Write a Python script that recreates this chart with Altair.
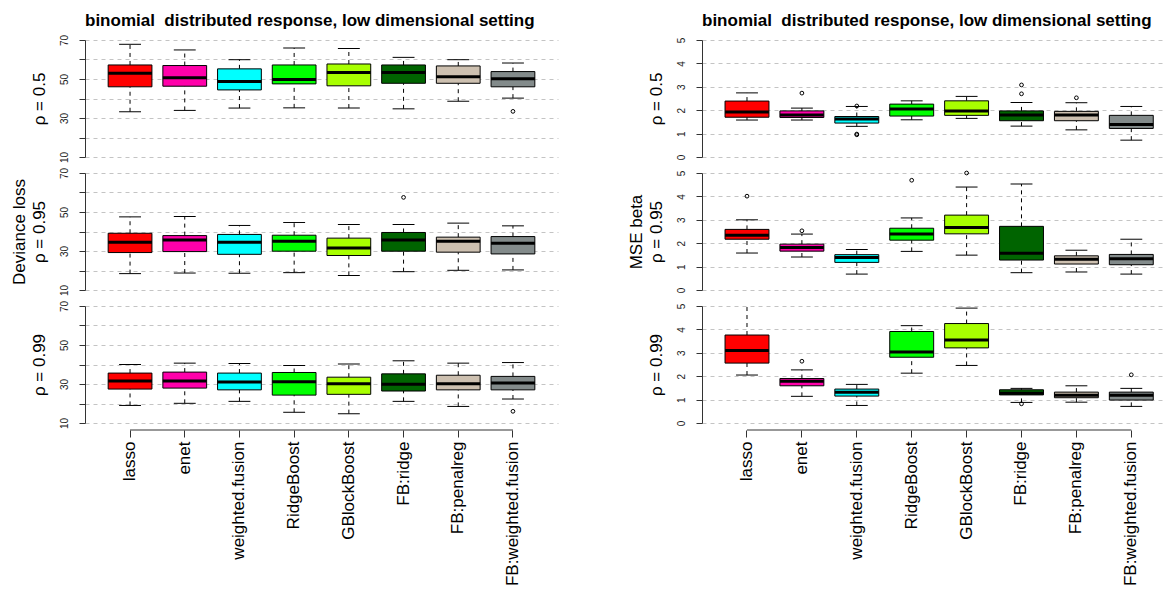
import altair as alt
import pandas as pd

FONT = "Liberation Sans"

methods = ["lasso", "enet", "weighted.fusion", "RidgeBoost", "GBlockBoost",
           "FB:ridge", "FB:penalreg", "FB:weighted.fusion"]
colors = ["#FF0000", "#FF00AA", "#00FFFF", "#00FF00", "#A8FF00",
          "#006400", "#CDC0B0", "#838B8B"]

# (lower whisker, Q1, median, Q3, upper whisker) per method
dev_r05 = [(33.2, 46.0, 53.0, 57.2, 67.8), (33.9, 46.3, 50.7, 56.9, 64.9),
           (35.1, 44.4, 48.7, 55.2, 59.9), (35.2, 47.5, 49.7, 57.2, 65.9),
           (35.1, 46.5, 53.3, 57.7, 65.7), (34.7, 47.8, 53.3, 57.2, 61.1),
           (38.6, 47.8, 51.1, 56.7, 59.9), (40.2, 46.0, 50.1, 53.8, 58.2)]
dev_r05_out = [("FB:weighted.fusion", 33.4)]

dev_r095 = [(18.4, 29.2, 34.5, 39.1, 47.5), (18.7, 29.7, 35.7, 37.9, 47.7),
            (18.6, 28.3, 34.5, 38.5, 43.1), (18.9, 29.9, 35.0, 38.1, 44.6),
            (17.5, 27.7, 31.6, 36.6, 43.6), (19.4, 29.9, 35.7, 39.5, 43.6),
            (20.1, 29.4, 35.0, 37.1, 44.3), (20.3, 28.5, 34.0, 37.4, 42.9)]
dev_r095_out = [("FB:ridge", 57.5)]

dev_r099 = [(19.0, 27.4, 31.6, 35.6, 40.0), (20.1, 27.9, 31.5, 36.1, 40.7),
            (21.1, 27.0, 31.0, 35.6, 40.5), (15.5, 24.3, 31.1, 35.9, 39.5),
            (14.8, 24.7, 30.1, 33.5, 40.3), (21.1, 26.4, 29.9, 35.2, 41.9),
            (18.5, 27.0, 30.1, 34.5, 40.7), (22.3, 27.0, 30.5, 33.9, 41.0)]
dev_r099_out = [("FB:weighted.fusion", 16.0)]

mse_r05 = [(1.58, 1.70, 1.92, 2.39, 2.74), (1.58, 1.69, 1.79, 1.97, 2.09),
           (1.31, 1.45, 1.62, 1.73, 2.16), (1.59, 1.75, 2.05, 2.26, 2.40),
           (1.65, 1.78, 1.97, 2.40, 2.59), (1.32, 1.55, 1.80, 1.97, 2.33),
           (1.16, 1.55, 1.80, 1.95, 2.32), (0.72, 1.22, 1.39, 1.78, 2.16)]
mse_r05_out = [("enet", 2.73), ("weighted.fusion", 2.18), ("weighted.fusion", 0.95),
               ("weighted.fusion", 0.98), ("FB:ridge", 2.70), ("FB:ridge", 3.08),
               ("FB:penalreg", 2.53)]

mse_r095 = [(1.58, 2.17, 2.34, 2.59, 3.00), (1.41, 1.66, 1.82, 1.96, 2.39),
            (0.68, 1.18, 1.39, 1.51, 1.73), (1.65, 2.13, 2.39, 2.64, 3.08),
            (1.49, 2.40, 2.67, 3.20, 4.40), (0.74, 1.28, 1.57, 2.72, 4.53),
            (0.77, 1.11, 1.31, 1.46, 1.70), (0.68, 1.08, 1.34, 1.52, 2.17)]
mse_r095_out = [("lasso", 4.01), ("enet", 2.53), ("RidgeBoost", 4.69), ("GBlockBoost", 5.0)]

mse_r099 = [(2.05, 2.56, 3.10, 3.76, 5.20), (1.14, 1.59, 1.78, 1.90, 2.27),
            (0.75, 1.15, 1.31, 1.45, 1.65), (2.13, 2.81, 3.03, 3.91, 4.16),
            (2.46, 3.21, 3.55, 4.25, 4.91), (0.88, 1.20, 1.27, 1.42, 1.48),
            (0.89, 1.08, 1.19, 1.32, 1.59), (0.71, 0.98, 1.19, 1.32, 1.48)]
mse_r099_out = [("enet", 2.64), ("FB:ridge", 0.82), ("FB:weighted.fusion", 2.06)]

title_text = "binomial\u00a0 distributed response, low dimensional setting"

dev_ticks = [10, 20, 30, 40, 50, 60, 70]
mse_ticks = [0, 1, 2, 3, 4, 5]

ROW_H = 117
LEFT_W = 473
RIGHT_W = 461
COL_GAP = 144
GRID = "#C4C4C4"
AXC = "#333333"

left_x = alt.Scale(type="band", domain=methods, paddingInner=0, paddingOuter=0.3235, align=0.5)
right_x = alt.Scale(type="band", domain=methods, paddingInner=0, paddingOuter=0.1985, align=0.805)


def panel(stats, outliers, ydom, yvals, lexpr, ytitle, xscale, width, bottom, top_title):
    df = pd.DataFrame({
        "method": methods,
        "lo": [s[0] for s in stats],
        "q1": [s[1] for s in stats],
        "med": [s[2] for s in stats],
        "q3": [s[3] for s in stats],
        "hi": [s[4] for s in stats],
    })
    if bottom:
        xaxis = alt.Axis(title=None, labelAngle=270, labelAlign="right", labelBaseline="middle",
                         labelFontSize=17, labelPadding=4, tickSize=7, offset=7, domain=False,
                         tickColor=AXC, labelColor="black", grid=False)
    else:
        xaxis = None
    X = alt.X("method:N", scale=xscale, axis=xaxis, title=None)
    yscale = alt.Scale(domain=ydom, nice=False, zero=False)
    axis_kw = dict(values=yvals, title=ytitle, grid=True, gridColor=GRID, gridDash=[4, 4],
                   gridWidth=1, tickSize=6, tickColor=AXC, domainColor=AXC,
                   labelAngle=270, labelAlign="center", labelBaseline="bottom",
                   labelPadding=10, labelFontSize=10, labelColor="#222222",
                   titleFontSize=17, titleFontWeight="normal", titleColor="black",
                   titlePadding=11, titleLineHeight=20)
    if lexpr:
        axis_kw["labelExpr"] = lexpr
    yaxis = alt.Axis(**axis_kw)

    def Y(f):
        return alt.Y(f"{f}:Q", scale=yscale, axis=yaxis)

    base = alt.Chart(df)
    layers = [
        base.mark_rule(color="black", strokeDash=[4, 4], strokeWidth=1, clip=True)
            .encode(x=X, y=Y("q3"), y2="hi:Q"),
        base.mark_rule(color="black", strokeDash=[4, 4], strokeWidth=1, clip=True)
            .encode(x=X, y=Y("lo"), y2="q1:Q"),
        base.mark_tick(color="black", size=21.9, thickness=1, clip=True, opacity=1)
            .encode(x=X, y=Y("hi")),
        base.mark_tick(color="black", size=21.9, thickness=1, clip=True, opacity=1)
            .encode(x=X, y=Y("lo")),
        base.mark_bar(width=alt.RelativeBandSize(0.8), stroke="black", strokeWidth=1, opacity=1)
            .encode(x=X, y=Y("q1"), y2="q3:Q",
                    color=alt.Color("method:N", scale=alt.Scale(domain=methods, range=colors),
                                    legend=None)),
        base.mark_tick(color="black", size=43.8, thickness=3, opacity=1)
            .encode(x=X, y=Y("med")),
    ]
    if outliers:
        odf = pd.DataFrame(outliers, columns=["method", "value"])
        layers.append(
            alt.Chart(odf).mark_point(shape="circle", filled=False, color="black", size=14,
                                      strokeWidth=1, opacity=1)
            .encode(x=X, y=Y("value"))
        )
    if bottom:
        adf = pd.DataFrame({"a": [methods[0]], "b": [methods[-1]]})
        layers.append(
            alt.Chart(adf).mark_rule(color=AXC, strokeWidth=1)
            .encode(x=alt.X("a:N", scale=xscale, axis=xaxis, title=None), x2="b:N",
                    y=alt.value(ROW_H + 7))
        )
    if top_title:
        tdf = pd.DataFrame({"t": [title_text]})
        layers.append(
            alt.Chart(tdf).mark_text(align="left", baseline="alphabetic", fontSize=17,
                                     fontWeight="bold", font=FONT, color="black")
            .encode(text="t:N", x=alt.value(0), y=alt.value(-14))
        )
    return alt.layer(*layers).properties(width=width, height=ROW_H)


dev_expr = "datum.value % 20 == 10 ? datum.label : ''"

cells = [
    panel(dev_r05, dev_r05_out, [10, 70], dev_ticks, dev_expr, "ρ = 0.5", left_x, LEFT_W, False, True),
    panel(mse_r05, mse_r05_out, [0, 5], mse_ticks, None, "ρ = 0.5", right_x, RIGHT_W, False, True),
    panel(dev_r095, dev_r095_out, [10, 70], dev_ticks, dev_expr, ["Deviance loss", "ρ = 0.95"],
          left_x, LEFT_W, False, False),
    panel(mse_r095, mse_r095_out, [0, 5], mse_ticks, None, ["MSE beta", "ρ = 0.95"],
          right_x, RIGHT_W, False, False),
    panel(dev_r099, dev_r099_out, [10, 70], dev_ticks, dev_expr, "ρ = 0.99", left_x, LEFT_W, True, False),
    panel(mse_r099, mse_r099_out, [0, 5], mse_ticks, None, "ρ = 0.99", right_x, RIGHT_W, True, False),
]

chart = alt.concat(*cells, columns=2, spacing={"row": 16, "column": COL_GAP}, bounds="flush").properties(
    padding={"left": 10, "top": 12, "right": 0, "bottom": 0}
).configure(
    font=FONT,
).configure_view(
    stroke=None
).configure_axis(
    labelFont=FONT, titleFont=FONT
).configure_title(
    font=FONT
)

chart.save("out.html", embed_options={"renderer": "svg", "actions": False})
